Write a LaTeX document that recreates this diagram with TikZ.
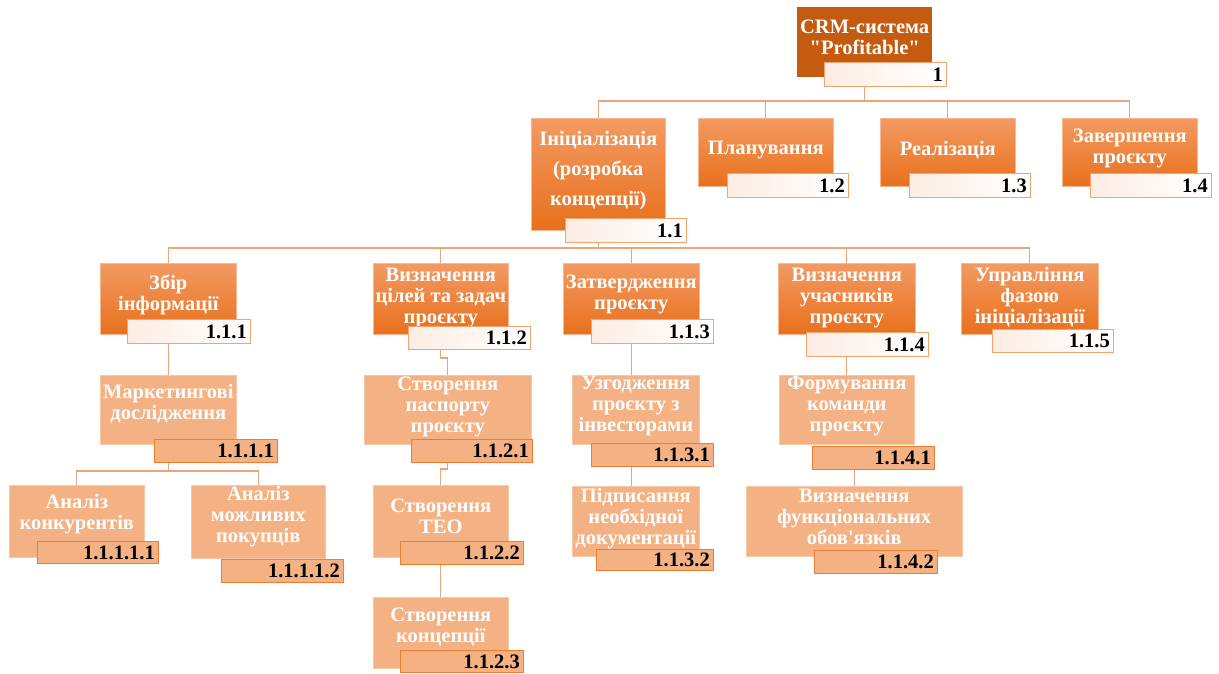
\documentclass[tikz,border=0pt]{standalone}
\usepackage{fontspec}
\newfontfamily\wbsfont{Liberation Serif}
\usetikzlibrary{calc}
\pgfdeclarelayer{bg}
\pgfsetlayers{bg,main}

\definecolor{dark}{HTML}{C55A11}
\definecolor{midtop}{HTML}{F39A62}
\definecolor{midbot}{HTML}{E8701C}
\definecolor{pale}{HTML}{F4B183}
\definecolor{edge}{HTML}{ED7D31}
\definecolor{wirec}{HTML}{EBA47A}
\definecolor{tagpink}{HTML}{FCEDE3}

\tikzset{
  every node/.style={font=\wbsfont\bfseries\fontsize{20.5}{21}\selectfont},
  topbox/.style={fill=dark},
  midbox/.style={top color=midtop, bottom color=midbot, draw=midtop!70!white, line width=0.6pt},
  lowbox/.style={fill=pale, draw=pale!70!white, line width=0.6pt},
  tag/.style={left color=tagpink, right color=white, draw=pale!75!edge, line width=1pt},
  lowtag/.style={fill=pale, draw=edge, line width=1pt},
  txt/.style={text=white, align=center, inner sep=0pt},
  num/.style={anchor=east, inner sep=0pt, text=black},
  wire/.style={draw=wirec, line width=1.2pt},
}

% box: name, style, x1, y1, x2, y2, text, vertical text offset
\newcommand\wbsbox[8]{%
  \node[#2, anchor=north west, inner sep=0pt,
        minimum width={(#5)-(#3)}, minimum height={(#6)-(#4)}] (#1) at (#3,#4) {};
  \node[txt] (#1t) at ([yshift=#8pt]#1.center) {#7};}
% code tag: name, style, x1, y1, x2, y2, number
\newcommand\wbstag[7]{%
  \node[#2, anchor=north west, inner sep=0pt,
        minimum width={(#5)-(#3)}, minimum height={(#6)-(#4)}] (#1) at (#3,#4) {};
  \node[num] (#1n) at ([xshift=-4pt]#1.east) {#7};}

\begin{document}
\begin{tikzpicture}[x=1pt, y=-1pt]
\useasboundingbox (0,0) rectangle (1219,673);
\begin{pgfonlayer}{bg}
  \fill[white] (0,0) rectangle (1219,673);
\end{pgfonlayer}

% level 0
\wbsbox{b1}{topbox}{797}{7}{932}{77}{CRM-система\\"Profitable"}{5}
\wbstag{l1}{tag}{824}{62}{946}{86}{1}

% level 1
\wbsbox{b11}{midbox}{531}{118}{665}{230}{Ініціалізація\\[9pt](розробка\\[9pt]концепції)}{4}
\wbstag{l11}{tag}{565}{218}{686}{242}{1.1}
\wbsbox{b12}{midbox}{698}{118}{833}{186}{Планування}{2}
\wbstag{l12}{tag}{727}{173}{848}{197}{1.2}
\wbsbox{b13}{midbox}{880}{118}{1015}{186}{Реалізація}{2}
\wbstag{l13}{tag}{909}{173}{1030}{197}{1.3}
\wbsbox{b14}{midbox}{1062}{118}{1197}{186}{Завершення\\проєкту}{4}
\wbstag{l14}{tag}{1090}{173}{1211}{197}{1.4}

% level 2
\wbsbox{b111}{midbox}{100}{263}{236}{334}{Збір\\інформації}{4}
\wbstag{l111}{tag}{127}{319}{250}{343}{1.1.1}
\wbsbox{b112}{midbox}{373}{263}{508}{334}{Визначення\\цілей та задач\\проєкту}{1}
\wbstag{l112}{tag}{408}{326}{530}{349}{1.1.2}
\wbsbox{b113}{midbox}{563}{263}{699}{334}{Затвердження\\проєкту}{4}
\wbstag{l113}{tag}{591}{319}{713}{343}{1.1.3}
\wbsbox{b114}{midbox}{778}{263}{915}{334}{Визначення\\учасників\\проєкту}{1}
\wbstag{l114}{tag}{806}{332}{928}{356}{1.1.4}
\wbsbox{b115}{midbox}{961}{263}{1098}{334}{Управління\\фазою\\ініціалізації}{2}
\wbstag{l115}{tag}{992}{329}{1113}{352}{1.1.5}

% level 3 and below
\wbsbox{b1111}{lowbox}{100}{375}{236}{444}{Маркетингові\\дослідження}{6}
\wbstag{l1111}{lowtag}{154}{439}{277}{462}{1.1.1.1}
\wbsbox{b11111}{lowbox}{9}{485}{144}{557}{Аналіз\\конкурентів}{7}
\wbstag{l11111}{lowtag}{37}{541}{158}{563}{1.1.1.1.1}
\wbsbox{b11112}{lowbox}{191}{485}{325}{558}{Аналіз\\можливих\\покупців}{5}
\wbstag{l11112}{lowtag}{221}{559}{343}{582}{1.1.1.1.2}

\wbsbox{b1121}{lowbox}{364}{375}{531}{444}{Створення\\паспорту\\проєкту}{3}
\wbstag{l1121}{lowtag}{411}{439}{532}{462}{1.1.2.1}
\wbsbox{b1122}{lowbox}{373}{485}{508}{557}{Створення\\ТЕО}{5}
\wbstag{l1122}{lowtag}{400}{541}{523}{564}{1.1.2.2}
\wbsbox{b1123}{lowbox}{373}{597}{508}{668}{Створення\\концепції}{6}
\wbstag{l1123}{lowtag}{400}{650}{523}{672}{1.1.2.3}

\wbsbox{b1131}{lowbox}{572}{375}{699}{444}{Узгодження\\проєкту з\\інвесторами}{4}
\wbstag{l1131}{lowtag}{591}{443}{713}{466}{1.1.3.1}
\wbsbox{b1132}{lowbox}{572}{486}{699}{556}{Підписання\\необхідної\\документації}{3}
\wbstag{l1132}{lowtag}{596}{549}{713}{570}{1.1.3.2}

\wbsbox{b1141}{lowbox}{779}{375}{914}{444}{Формування\\команди\\проєкту}{4}
\wbstag{l1141}{lowtag}{812}{446}{934}{469}{1.1.4.1}
\wbsbox{b1142}{lowbox}{746}{486}{962}{556}{Визначення\\функціональних\\обов'язків}{4}
\wbstag{l1142}{lowtag}{814}{550}{937}{573}{1.1.4.2}

% connectors
\begin{pgfonlayer}{bg}
  \foreach \c in {b11,b12,b13,b14}
    \draw[wire] (b1.south |- l1.south) -- ++(0,14) -| (\c.north);
  \foreach \c in {b111,b112,b113,b114,b115}
    \draw[wire] (b11.south |- l11.south) -- ++(0,5) -| (\c.north);
  \draw[wire] (b111.south |- l111.south) -- (b1111.north);
  \foreach \c in {b11111,b11112}
    \draw[wire] (b1111.south |- l1111.south) -- ++(0,8) -| (\c.north);
  \draw[wire] (b112.south |- l112.south) -- ++(0,8) -| (b1121.north);
  \draw[wire] (b1121.south |- l1121.south) -- ++(0,6) -| (b1122.north);
  \draw[wire] (b1122.south |- l1122.south) -- (b1123.north);
  \draw[wire] (b113.south |- l113.south) -- (b113.south |- b1131.north);
  \draw[wire] (b113.south |- l1131.south) -- (b113.south |- b1132.north);
  \draw[wire] (b114.south |- l114.south) -- (b1141.north);
  \draw[wire] (b1142.north |- l1141.south) -- (b1142.north);
\end{pgfonlayer}
\end{tikzpicture}
\end{document}
